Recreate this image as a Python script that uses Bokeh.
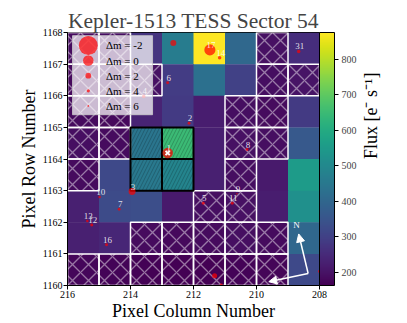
import math
from bokeh.plotting import figure
from bokeh.models import (Range1d, LinearColorMapper, ColorBar, FixedTicker, Arrow,
                          NormalHead, Label, ColumnDataSource, LinearAxis)
from bokeh.palettes import Viridis256
from bokeh.transform import transform
from bokeh.embed import file_html
from bokeh.resources import INLINE
from bokeh.core.properties import value

FONT = "Liberation Serif"

# ---------------- data ----------------
col_centers = [215.5, 214.5, 213.5, 212.5, 211.5, 210.5, 209.5, 208.5]
row_centers = [1167.5, 1166.5, 1165.5, 1164.5, 1163.5, 1162.5, 1161.5, 1160.5]

# flux per pixel (rows top -> bottom, columns left -> right)
flux = [
    [185, 190, 270, 462, 876, 405, 195, 255],
    [180, 185, 195, 290, 427, 300, 190, 200],
    [185, 180, 235, 285, 220, 190, 185, 285],
    [190, 185, 440, 650, 225, 195, 190, 363],
    [185, 320, 450, 485, 225, 190, 215, 555],
    [225, 325, 335, 215, 190, 195, 220, 520],
    [225, 240, 185, 180, 185, 190, 185, 400],
    [175, 170, 168, 165, 163, 170, 172, 320],
]

# masked (cross-hatched) pixels
hatched = [
    [1, 1, 0, 0, 0, 0, 1, 0],
    [1, 1, 1, 0, 0, 0, 1, 1],
    [1, 1, 0, 0, 0, 1, 1, 0],
    [1, 1, 0, 0, 0, 1, 1, 0],
    [1, 0, 0, 0, 0, 1, 0, 0],
    [0, 0, 0, 0, 1, 1, 0, 0],
    [0, 0, 1, 1, 1, 1, 1, 0],
    [1, 1, 1, 1, 1, 1, 1, 0],
]

# aperture pixels
aperture = [
    [0, 0, 0, 0, 0, 0, 0, 0],
    [0, 0, 0, 0, 0, 0, 0, 0],
    [0, 0, 0, 0, 0, 0, 0, 0],
    [0, 0, 1, 1, 0, 0, 0, 0],
    [0, 0, 1, 1, 0, 0, 0, 0],
    [0, 0, 0, 0, 0, 0, 0, 0],
    [0, 0, 0, 0, 0, 0, 0, 0],
    [0, 0, 0, 0, 0, 0, 0, 0],
]

# Gaia sources (first one is the target)
star_x = [212.82, 212.14, 213.95, 213.58, 211.69, 212.82, 214.36, 210.30, 210.62,
          214.98, 210.77, 215.23, 215.37, 211.17, 212.64, 214.76, 211.48, 208.66,
          211.33, 211.12, 208.00]
star_y = [1164.19, 1165.13, 1162.97, 1165.98, 1162.60, 1166.41, 1162.41, 1164.30, 1162.90,
          1162.80, 1162.60, 1161.91, 1162.04, 1167.20, 1167.67, 1161.29, 1167.45, 1167.40,
          1160.31, 1160.02, 1160.44]
star_dmag = [0.0, 4.3, 1.4, 3.7, 4.3, 4.3, 4.3, 4.3, 6.6,
             4.9, 4.3, 4.3, 4.9, 3.7, 1.9, 4.3, -0.2, 3.7,
             2.5, 4.3, 4.3]
star_label = ["1", "2", "3", "4", "5", "6", "7", "8", "9",
              "10", "11", "12", "13", "14", "", "16", "17", "31",
              "", "", ""]

legend_dmag = [-2, 0, 2, 4, 6]
cbar_ticks = [200, 300, 400, 500, 600, 700, 800]
x_ticks = [216, 214, 212, 210, 208]
y_ticks = [1160, 1161, 1162, 1163, 1164, 1165, 1166, 1167, 1168]


def msize(dm):
    return 10.5 / 1.8 ** (dm / 2.0)


# ---------------- build ----------------
px, py, pv = [], [], []
hx, hy, ax_, ay = [], [], [], []
for i, r in enumerate(row_centers):
    for j, c in enumerate(col_centers):
        px.append(c); py.append(r); pv.append(flux[i][j])
        if hatched[i][j]:
            hx.append(c); hy.append(r)
        if aperture[i][j]:
            ax_.append(c); ay.append(r)

mapper = LinearColorMapper(palette=Viridis256, low=min(pv), high=max(pv))

p = figure(frame_width=252, frame_height=253,
           x_range=Range1d(216, 208), y_range=Range1d(1160, 1168),
           output_backend="svg", toolbar_location=None,
           min_border_left=67, min_border_right=88, min_border_top=32, min_border_bottom=38)
p.background_fill_color = "white"
p.outline_line_color = "black"
p.outline_line_width = 1
p.grid.visible = False

p.title.text = "Kepler-1513 TESS Sector 54"
p.title.text_font = FONT
p.title.text_font_size = "21.5px"
p.title.text_font_style = "normal"
p.title.align = "center"
p.title.standoff = 0
p.title.offset = 0

for ax in (p.xaxis, p.yaxis):
    ax.major_label_text_font = FONT
    ax.major_label_text_font_size = "10px"
    ax.major_label_text_color = "black"
    ax.axis_label_text_font = FONT
    ax.axis_label_text_font_size = "18px"
    ax.axis_label_text_font_style = "normal"
    ax.axis_label_text_color = "black"
    ax.axis_line_color = "black"
    ax.major_tick_line_color = "black"
    ax.major_tick_out = 4
    ax.major_tick_in = 0
    ax.minor_tick_line_color = None
    ax.major_label_standoff = 1
    ax.axis_label_standoff = 1
p.xaxis.ticker = FixedTicker(ticks=x_ticks)
p.yaxis.ticker = FixedTicker(ticks=y_ticks)
p.xaxis.axis_label = "Pixel Column Number"
p.yaxis.axis_label = "Pixel Row Number"
p.xaxis.axis_label_standoff = 0

src = ColumnDataSource(dict(x=px, y=py, v=pv))
p.rect("x", "y", width=1, height=1, source=src, fill_color=transform("v", mapper),
       line_color=None, dilate=True)

p.rect(hx, hy, width=1, height=1, fill_color=None, hatch_pattern="x",
       hatch_color="white", hatch_alpha=0.45, hatch_scale=16, hatch_weight=1.3,
       line_color="white", line_width=1.5)

p.rect(ax_, ay, width=1, height=1, fill_color=None, hatch_pattern="/",
       hatch_color="black", hatch_alpha=0.35, hatch_scale=7, hatch_weight=0.6,
       line_color="black", line_width=2)

sizes = [msize(d) for d in star_dmag]
p.scatter(star_x, star_y, size=sizes, marker="circle", fill_color="red",
          fill_alpha=0.7, line_color=None)
p.scatter([star_x[0]], [star_y[0]], marker="x", size=6, line_color="white", line_width=2)
p.text(star_x, star_y, text=star_label, text_color="white", text_alpha=0.85,
       text_font=value(FONT), text_font_size="9px", text_align="center",
       text_baseline="bottom", y_offset=-2, x_offset=1)

# legend (drawn manually so marker sizes follow Δm)
leg_left, leg_right, leg_top, leg_bottom = 215.84, 213.30, 1167.90, 1165.40
p.quad(left=[leg_left], right=[leg_right], top=[leg_top], bottom=[leg_bottom],
       fill_color="white", fill_alpha=0.72, line_color="#cccccc", line_alpha=0.8)
leg_y = [1167.59 - 0.478 * i for i in range(len(legend_dmag))]
p.scatter([215.34] * len(legend_dmag), leg_y, size=[msize(d) for d in legend_dmag],
          marker="circle", fill_color="red", fill_alpha=0.7, line_color=None)
p.text([214.78] * len(legend_dmag), leg_y, text=["Δm = %d" % d for d in legend_dmag],
       text_color="black", text_font=value(FONT), text_font_size="11px",
       text_baseline="middle", text_align="left")

# compass
cx, cy = 208.36, 1160.38
p.add_layout(Arrow(x_start=cx, y_start=cy, x_end=208.66, y_end=1161.63,
                   line_color="white", line_width=1.5,
                   end=NormalHead(size=8, fill_color="white", line_color="white")))
p.add_layout(Arrow(x_start=cx, y_start=cy, x_end=209.61, y_end=1160.12,
                   line_color="white", line_width=1.5,
                   end=NormalHead(size=8, fill_color="white", line_color="white")))
p.add_layout(Label(x=208.73, y=1161.75, text="N", text_color="white",
                   text_font=FONT, text_font_size="9px", text_align="center",
                   text_baseline="bottom"))

# spacer between frame and colour bar
spacer = LinearAxis(ticker=FixedTicker(ticks=[]), major_tick_out=8, major_tick_in=0,
                    axis_line_color=None, major_tick_line_color=None,
                    major_label_standoff=0)
p.add_layout(spacer, "right")

cb = ColorBar(color_mapper=mapper, ticker=FixedTicker(ticks=cbar_ticks),
              width=15, height=253, padding=0, margin=0, location=(0, 0),
              major_tick_out=4, major_tick_in=0, major_tick_line_color="black",
              bar_line_color="black", bar_line_width=1,
              major_label_text_font=FONT, major_label_text_font_size="10px",
              label_standoff=3, background_fill_alpha=0, border_line_color=None)
p.add_layout(cb, "right")

lab_axis = LinearAxis(ticker=FixedTicker(ticks=[]), axis_label="Flux [e⁻ s⁻¹]",
                      axis_label_text_font=FONT, axis_label_text_font_size="18px",
                      axis_label_text_font_style="normal", axis_label_text_color="black",
                      axis_line_color=None, major_tick_out=0, major_tick_in=0,
                      major_tick_line_color=None, axis_label_standoff=11,
                      major_label_standoff=0)
try:
    lab_axis.axis_label_orientation = math.pi / 2
except Exception:
    pass
p.add_layout(lab_axis, "right")

open("out.html", "w").write(file_html(p, INLINE))
